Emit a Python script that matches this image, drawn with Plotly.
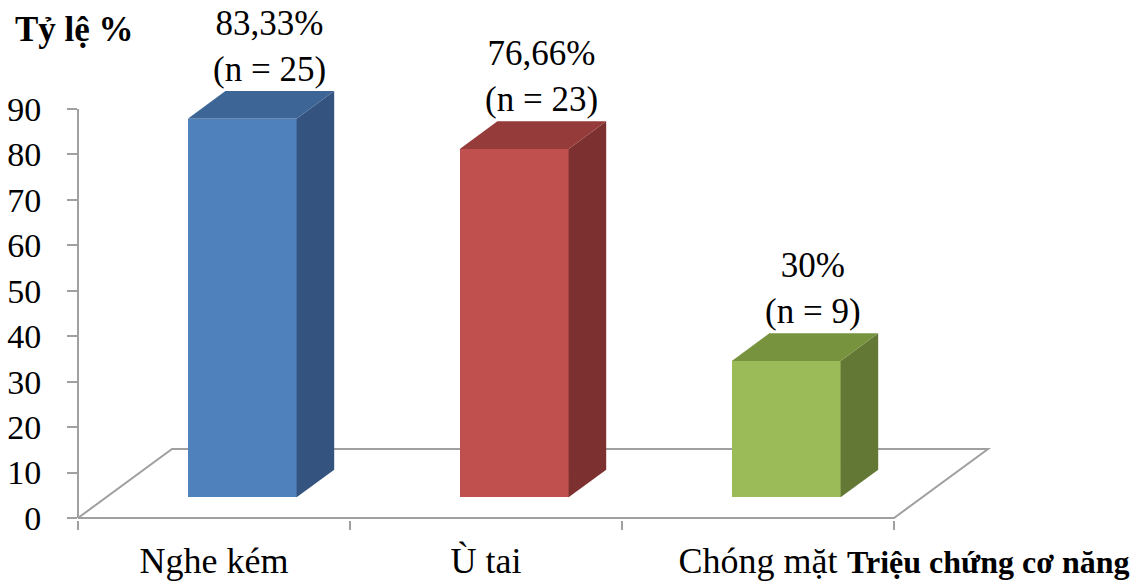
import plotly.graph_objects as go

# Data
categories = ["Nghe kém", "Ù tai", "Chóng mặt"]
percents = [83.33, 76.66, 30]
pct_labels = ["83,33%", "76,66%", "30%"]
counts = [25, 23, 9]

front_colors = ["#4F81BD", "#C0504D", "#9BBB59"]
top_colors = ["#3D6696", "#953B39", "#78933E"]
side_colors = ["#34547F", "#7C3130", "#647835"]

# Pseudo-3D geometry (axis units)
DEPTH_X = 0.3456      # horizontal shift of the full floor depth (category units)
DEPTH_Y = 15.19       # vertical shift of the full floor depth (value units)
BAR_W = 0.40          # bar width (category units)
BAR_D0, BAR_D1 = 0.3, 0.7  # bar depth span as fraction of floor depth

X_RANGE = [-0.5, 2.8897]
Y_RANGE = [-0.44, 111.8]

FONT = "Liberation Serif, Times New Roman, serif"
GRID = "#A0A0A0"

fig = go.Figure()

n = len(categories)

# Floor outline, drawn beneath the bars
floor_pts = [(-0.5, 0), (n - 0.5, 0), (n - 0.5 + DEPTH_X, DEPTH_Y), (-0.5 + DEPTH_X, DEPTH_Y)]
floor_path = "M " + " L ".join(f"{x},{y}" for x, y in floor_pts) + " Z"
shapes = [dict(type="path", path=floor_path, xref="x", yref="y", layer="below",
               line=dict(color=GRID, width=2), fillcolor="rgba(0,0,0,0)")]

base = BAR_D0 * DEPTH_Y
bdx = (BAR_D1 - BAR_D0) * DEPTH_X
bdy = (BAR_D1 - BAR_D0) * DEPTH_Y
centers = [i + BAR_D0 * DEPTH_X for i in range(n)]

# Front faces
fig.add_trace(go.Bar(x=centers, y=percents, base=[base] * n, width=BAR_W,
                     marker=dict(color=front_colors, line=dict(width=0)),
                     hoverinfo="skip", showlegend=False))

for c, v, tc, sc in zip(centers, percents, top_colors, side_colors):
    xl, xr = c - BAR_W / 2, c + BAR_W / 2
    top = base + v
    # side face
    fig.add_trace(go.Scatter(
        x=[xr, xr + bdx, xr + bdx, xr, xr],
        y=[base, base + bdy, top + bdy, top, base],
        fill="toself", fillcolor=sc, mode="lines", line=dict(width=0, color=sc),
        hoverinfo="skip", showlegend=False))
    # top face
    fig.add_trace(go.Scatter(
        x=[xl, xr, xr + bdx, xl + bdx, xl],
        y=[top, top, top + bdy, top + bdy, top],
        fill="toself", fillcolor=tc, mode="lines", line=dict(width=0, color=tc),
        hoverinfo="skip", showlegend=False))

# Value labels above each bar
annotations = []
for c, v, pl, cnt in zip(centers, percents, pct_labels, counts):
    annotations.append(dict(
        x=c + bdx / 2 + 0.03, y=base + v + bdy, xref="x", yref="y",
        text=f"{pl}<br>(n = {cnt})", showarrow=False,
        xanchor="center", yanchor="bottom", yshift=0,
        font=dict(family=FONT, size=35, color="#000000")))

# Axis titles
annotations.append(dict(
    x=-0.0705, y=0.9608, xref="paper", yref="paper", text="<b>Tỷ lệ %</b>",
    showarrow=False, xanchor="left", yanchor="middle",
    font=dict(family=FONT, size=35, color="#000000")))
annotations.append(dict(
    x=1.1432, y=-0.0824, xref="paper", yref="paper", text="<b>Triệu chứng cơ năng</b>",
    showarrow=False, xanchor="right", yanchor="middle",
    font=dict(family=FONT, size=32, color="#000000")))

# Vertical value axis line (0 to 90)
y_ticks = list(range(0, 100, 10))
y_span = Y_RANGE[1] - Y_RANGE[0]
shapes.append(dict(type="line", xref="paper", yref="paper", x0=0, x1=0,
                   y0=(0 - Y_RANGE[0]) / y_span, y1=(max(y_ticks) - Y_RANGE[0]) / y_span,
                   line=dict(color=GRID, width=2)))

fig.update_layout(
    width=1145, height=584,
    margin=dict(l=78, r=145, t=10, b=64, autoexpand=False),
    paper_bgcolor="white", plot_bgcolor="white",
    bargap=0, showlegend=False,
    annotations=annotations, shapes=shapes,
    xaxis=dict(
        range=X_RANGE, showgrid=False, zeroline=False, showline=False,
        tickmode="array", tickvals=list(range(n)), ticktext=categories,
        ticks="", ticklabelstandoff=16,
        tickfont=dict(family=FONT, size=36, color="#000000"),
        minor=dict(ticks="outside", tickmode="array",
                   tickvals=[i - 0.5 for i in range(n + 1)],
                   ticklen=9, tickwidth=2, tickcolor=GRID, showgrid=False),
        fixedrange=True),
    yaxis=dict(
        range=Y_RANGE, showgrid=False, zeroline=False, showline=False,
        tickmode="array", tickvals=y_ticks,
        ticks="outside", ticklen=10, tickwidth=2, tickcolor=GRID,
        ticklabelstandoff=19,
        tickfont=dict(family=FONT, size=34, color="#000000"),
        fixedrange=True),
)

fig.write_html("out.html", config={"displayModeBar": False})
